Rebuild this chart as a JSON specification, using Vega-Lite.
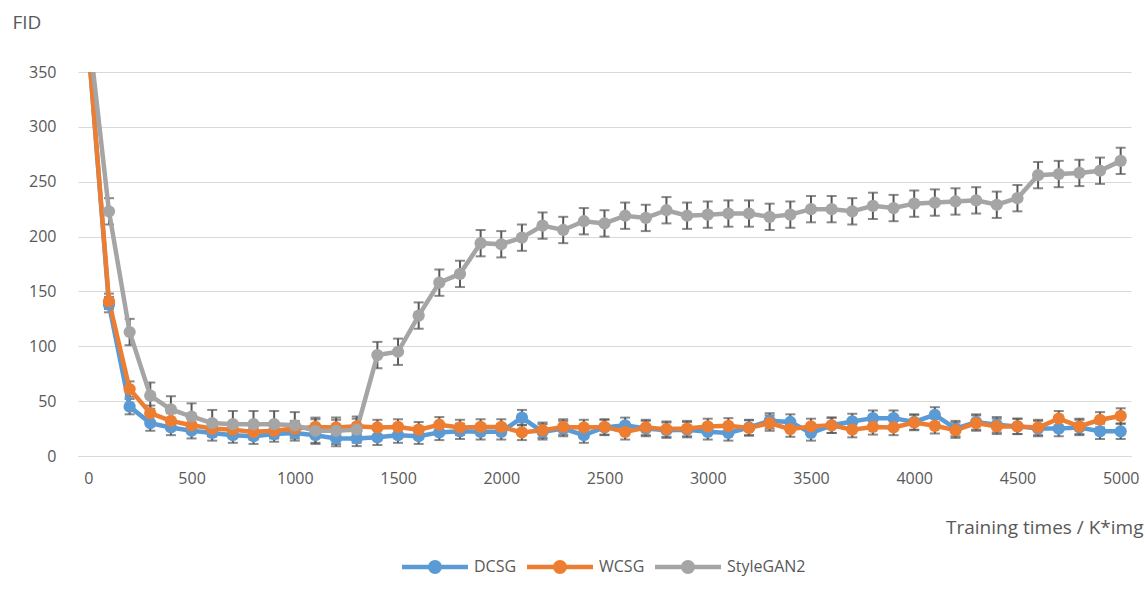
{
  "$schema": "https://vega.github.io/schema/vega-lite/v6.json",
  "autosize": "none",
  "width": 1053,
  "height": 384,
  "padding": {"left": 78, "top": 72, "right": 14, "bottom": 145},
  "background": "white",
  "config": {"view": {"stroke": null}, "font": "Open Sans"},
  "datasets": {
    "rows": [
      {"t":0,"series":"DCSG","fid":375,"err":7},{"t":100,"series":"DCSG","fid":138,"err":7},{"t":200,"series":"DCSG","fid":45,"err":7},{"t":300,"series":"DCSG","fid":30,"err":7},{"t":400,"series":"DCSG","fid":26,"err":7},{"t":500,"series":"DCSG","fid":23,"err":7},{"t":600,"series":"DCSG","fid":21,"err":7},{"t":700,"series":"DCSG","fid":19,"err":7},{"t":800,"series":"DCSG","fid":18,"err":7},{"t":900,"series":"DCSG","fid":20,"err":7},{"t":1000,"series":"DCSG","fid":21,"err":7},{"t":1100,"series":"DCSG","fid":19,"err":7},{"t":1200,"series":"DCSG","fid":16,"err":7},{"t":1300,"series":"DCSG","fid":16,"err":7},{"t":1400,"series":"DCSG","fid":17,"err":7},{"t":1500,"series":"DCSG","fid":19,"err":7},{"t":1600,"series":"DCSG","fid":18,"err":7},{"t":1700,"series":"DCSG","fid":21.5,"err":7},{"t":1800,"series":"DCSG","fid":22.5,"err":7},{"t":1900,"series":"DCSG","fid":22,"err":7},{"t":2000,"series":"DCSG","fid":22,"err":7},{"t":2100,"series":"DCSG","fid":35,"err":7},{"t":2200,"series":"DCSG","fid":22,"err":7},{"t":2300,"series":"DCSG","fid":25,"err":7},{"t":2400,"series":"DCSG","fid":19,"err":7},{"t":2500,"series":"DCSG","fid":26,"err":7},{"t":2600,"series":"DCSG","fid":28,"err":7},{"t":2700,"series":"DCSG","fid":25,"err":7},{"t":2800,"series":"DCSG","fid":23.5,"err":7},{"t":2900,"series":"DCSG","fid":24,"err":7},{"t":3000,"series":"DCSG","fid":22,"err":7},{"t":3100,"series":"DCSG","fid":21,"err":7},{"t":3200,"series":"DCSG","fid":26,"err":7},{"t":3300,"series":"DCSG","fid":32,"err":7},{"t":3400,"series":"DCSG","fid":31,"err":7},{"t":3500,"series":"DCSG","fid":21,"err":7},{"t":3600,"series":"DCSG","fid":28,"err":7},{"t":3700,"series":"DCSG","fid":31.5,"err":7},{"t":3800,"series":"DCSG","fid":34.5,"err":7},{"t":3900,"series":"DCSG","fid":34.5,"err":7},{"t":4000,"series":"DCSG","fid":31,"err":7},{"t":4100,"series":"DCSG","fid":37.5,"err":7},{"t":4200,"series":"DCSG","fid":25,"err":7},{"t":4300,"series":"DCSG","fid":31,"err":7},{"t":4400,"series":"DCSG","fid":28.5,"err":7},{"t":4500,"series":"DCSG","fid":27,"err":7},{"t":4600,"series":"DCSG","fid":25,"err":7},{"t":4700,"series":"DCSG","fid":25,"err":7},{"t":4800,"series":"DCSG","fid":26,"err":7},{"t":4900,"series":"DCSG","fid":22.5,"err":7},{"t":5000,"series":"DCSG","fid":22.5,"err":7},
      {"t":0,"series":"WCSG","fid":375,"err":7},{"t":100,"series":"WCSG","fid":141,"err":7},{"t":200,"series":"WCSG","fid":61,"err":7},{"t":300,"series":"WCSG","fid":39,"err":7},{"t":400,"series":"WCSG","fid":32,"err":7},{"t":500,"series":"WCSG","fid":28,"err":7},{"t":600,"series":"WCSG","fid":25,"err":7},{"t":700,"series":"WCSG","fid":24,"err":7},{"t":800,"series":"WCSG","fid":22,"err":7},{"t":900,"series":"WCSG","fid":23,"err":7},{"t":1000,"series":"WCSG","fid":25,"err":7},{"t":1100,"series":"WCSG","fid":26.5,"err":7},{"t":1200,"series":"WCSG","fid":26,"err":7},{"t":1300,"series":"WCSG","fid":27,"err":7},{"t":1400,"series":"WCSG","fid":26,"err":7},{"t":1500,"series":"WCSG","fid":26.5,"err":7},{"t":1600,"series":"WCSG","fid":24,"err":7},{"t":1700,"series":"WCSG","fid":28.5,"err":7},{"t":1800,"series":"WCSG","fid":26,"err":7},{"t":1900,"series":"WCSG","fid":26.5,"err":7},{"t":2000,"series":"WCSG","fid":26.5,"err":7},{"t":2100,"series":"WCSG","fid":21.5,"err":7},{"t":2200,"series":"WCSG","fid":23.5,"err":7},{"t":2300,"series":"WCSG","fid":26.5,"err":7},{"t":2400,"series":"WCSG","fid":26,"err":7},{"t":2500,"series":"WCSG","fid":26.5,"err":7},{"t":2600,"series":"WCSG","fid":22,"err":7},{"t":2700,"series":"WCSG","fid":26,"err":7},{"t":2800,"series":"WCSG","fid":24.5,"err":7},{"t":2900,"series":"WCSG","fid":25,"err":7},{"t":3000,"series":"WCSG","fid":27,"err":7},{"t":3100,"series":"WCSG","fid":27.5,"err":7},{"t":3200,"series":"WCSG","fid":25.5,"err":7},{"t":3300,"series":"WCSG","fid":30,"err":7},{"t":3400,"series":"WCSG","fid":24.5,"err":7},{"t":3500,"series":"WCSG","fid":27,"err":7},{"t":3600,"series":"WCSG","fid":28,"err":7},{"t":3700,"series":"WCSG","fid":24,"err":7},{"t":3800,"series":"WCSG","fid":26.5,"err":7},{"t":3900,"series":"WCSG","fid":26,"err":7},{"t":4000,"series":"WCSG","fid":30.5,"err":7},{"t":4100,"series":"WCSG","fid":27.5,"err":7},{"t":4200,"series":"WCSG","fid":23.5,"err":7},{"t":4300,"series":"WCSG","fid":30,"err":7},{"t":4400,"series":"WCSG","fid":27,"err":7},{"t":4500,"series":"WCSG","fid":27,"err":7},{"t":4600,"series":"WCSG","fid":26,"err":7},{"t":4700,"series":"WCSG","fid":34,"err":7},{"t":4800,"series":"WCSG","fid":27,"err":7},{"t":4900,"series":"WCSG","fid":33,"err":7},{"t":5000,"series":"WCSG","fid":36.5,"err":7},
      {"t":0,"series":"StyleGAN2","fid":390,"err":12},{"t":100,"series":"StyleGAN2","fid":223,"err":12},{"t":200,"series":"StyleGAN2","fid":113,"err":12},{"t":300,"series":"StyleGAN2","fid":55,"err":12},{"t":400,"series":"StyleGAN2","fid":42.5,"err":12},{"t":500,"series":"StyleGAN2","fid":36,"err":12},{"t":600,"series":"StyleGAN2","fid":30,"err":12},{"t":700,"series":"StyleGAN2","fid":29,"err":12},{"t":800,"series":"StyleGAN2","fid":29,"err":12},{"t":900,"series":"StyleGAN2","fid":29,"err":12},{"t":1000,"series":"StyleGAN2","fid":28,"err":12},{"t":1100,"series":"StyleGAN2","fid":23,"err":12},{"t":1200,"series":"StyleGAN2","fid":23,"err":12},{"t":1300,"series":"StyleGAN2","fid":24,"err":12},{"t":1400,"series":"StyleGAN2","fid":92,"err":12},{"t":1500,"series":"StyleGAN2","fid":95,"err":12},{"t":1600,"series":"StyleGAN2","fid":128,"err":12},{"t":1700,"series":"StyleGAN2","fid":158,"err":12},{"t":1800,"series":"StyleGAN2","fid":166,"err":12},{"t":1900,"series":"StyleGAN2","fid":194,"err":12},{"t":2000,"series":"StyleGAN2","fid":193,"err":12},{"t":2100,"series":"StyleGAN2","fid":199,"err":12},{"t":2200,"series":"StyleGAN2","fid":210,"err":12},{"t":2300,"series":"StyleGAN2","fid":206,"err":12},{"t":2400,"series":"StyleGAN2","fid":214,"err":12},{"t":2500,"series":"StyleGAN2","fid":212,"err":12},{"t":2600,"series":"StyleGAN2","fid":219,"err":12},{"t":2700,"series":"StyleGAN2","fid":217,"err":12},{"t":2800,"series":"StyleGAN2","fid":224,"err":12},{"t":2900,"series":"StyleGAN2","fid":219,"err":12},{"t":3000,"series":"StyleGAN2","fid":220,"err":12},{"t":3100,"series":"StyleGAN2","fid":221,"err":12},{"t":3200,"series":"StyleGAN2","fid":221,"err":12},{"t":3300,"series":"StyleGAN2","fid":218,"err":12},{"t":3400,"series":"StyleGAN2","fid":220,"err":12},{"t":3500,"series":"StyleGAN2","fid":225,"err":12},{"t":3600,"series":"StyleGAN2","fid":225,"err":12},{"t":3700,"series":"StyleGAN2","fid":223,"err":12},{"t":3800,"series":"StyleGAN2","fid":228,"err":12},{"t":3900,"series":"StyleGAN2","fid":226,"err":12},{"t":4000,"series":"StyleGAN2","fid":230,"err":12},{"t":4100,"series":"StyleGAN2","fid":231,"err":12},{"t":4200,"series":"StyleGAN2","fid":232,"err":12},{"t":4300,"series":"StyleGAN2","fid":233,"err":12},{"t":4400,"series":"StyleGAN2","fid":229,"err":12},{"t":4500,"series":"StyleGAN2","fid":235,"err":12},{"t":4600,"series":"StyleGAN2","fid":256,"err":12},{"t":4700,"series":"StyleGAN2","fid":257,"err":12},{"t":4800,"series":"StyleGAN2","fid":258,"err":12},{"t":4900,"series":"StyleGAN2","fid":260,"err":12},{"t":5000,"series":"StyleGAN2","fid":269,"err":12}
    ]
  },
  "data": {"name": "rows"},
  "encoding": {
    "x": {
      "field": "t", "type": "quantitative",
      "scale": {"domain": [-50, 5050], "nice": false, "zero": false},
      "axis": {
        "values": [0,500,1000,1500,2000,2500,3000,3500,4000,4500,5000], "format": "d",
        "grid": false, "ticks": false, "domain": true, "domainColor": "#d9d9d9", "domainWidth": 1,
        "labelFont": "Open Sans", "labelFontSize": 16, "labelColor": "#595959", "labelPadding": 14,
        "title": "Training times / K*img", "titleFont": "Open Sans", "titleFontSize": 19, "titleFontWeight": "normal", "titleColor": "#595959",
        "titleAnchor": null, "titleX": 1065, "titleY": 71, "titleAlign": "right", "titleBaseline": "middle"
      }
    },
    "y": {
      "field": "fid", "type": "quantitative",
      "scale": {"domain": [0, 350], "nice": false, "clamp": false},
      "axis": {
        "values": [0,50,100,150,200,250,300,350],
        "grid": true, "gridColor": "#d9d9d9", "gridWidth": 1, "ticks": false, "domain": false,
        "labelFont": "Open Sans", "labelFontSize": 16, "labelColor": "#595959", "labelPadding": 22,
        "title": "FID", "titleFont": "Open Sans", "titleFontSize": 19, "titleFontWeight": "normal", "titleColor": "#595959",
        "titleAngle": 0, "titleX": -66, "titleY": -50, "titleAlign": "left", "titleBaseline": "middle"
      }
    }
  },
  "layer": [
    {
      "mark": {"type": "errorbar", "color": "#595959", "ticks": {"size": 10, "thickness": 2, "color": "#595959"}, "rule": {"strokeWidth": 2, "color": "#595959"}, "clip": true},
      "encoding": {"yError": {"field": "err"}, "detail": {"field": "series"}}
    },
    {
      "mark": {"type": "line", "strokeWidth": 4.5, "clip": true},
      "encoding": {
        "color": {
          "field": "series", "type": "nominal",
          "scale": {"domain": ["DCSG", "WCSG", "StyleGAN2"], "range": ["#5B9BD5", "#ED7D31", "#A5A5A5"]},
          "legend": {
            "orient": "none", "direction": "horizontal", "legendX": 324, "legendY": 462,
            "title": null,
            "symbolType": "M-1,-0.07H1V0.07H-1Z M0.21,0A0.21,0.21 0 1,1 -0.21,0A0.21,0.21 0 1,1 0.21,0Z",
            "symbolSize": 4356, "symbolStrokeWidth": 0,
            "labelFont": "Open Sans", "labelFontSize": 16, "labelColor": "#595959", "labelOffset": 6,
            "columnPadding": 10,
            "encode": {"symbols": {"update": {"fill": {"scale": "color", "field": "value"}, "fillOpacity": {"value": 1}, "stroke": {"value": "transparent"}}}}
          }
        }
      }
    },
    {
      "mark": {"type": "point", "filled": true, "size": 150, "opacity": 1, "clip": true},
      "encoding": {"color": {"field": "series", "type": "nominal", "legend": null}}
    }
  ]
}
